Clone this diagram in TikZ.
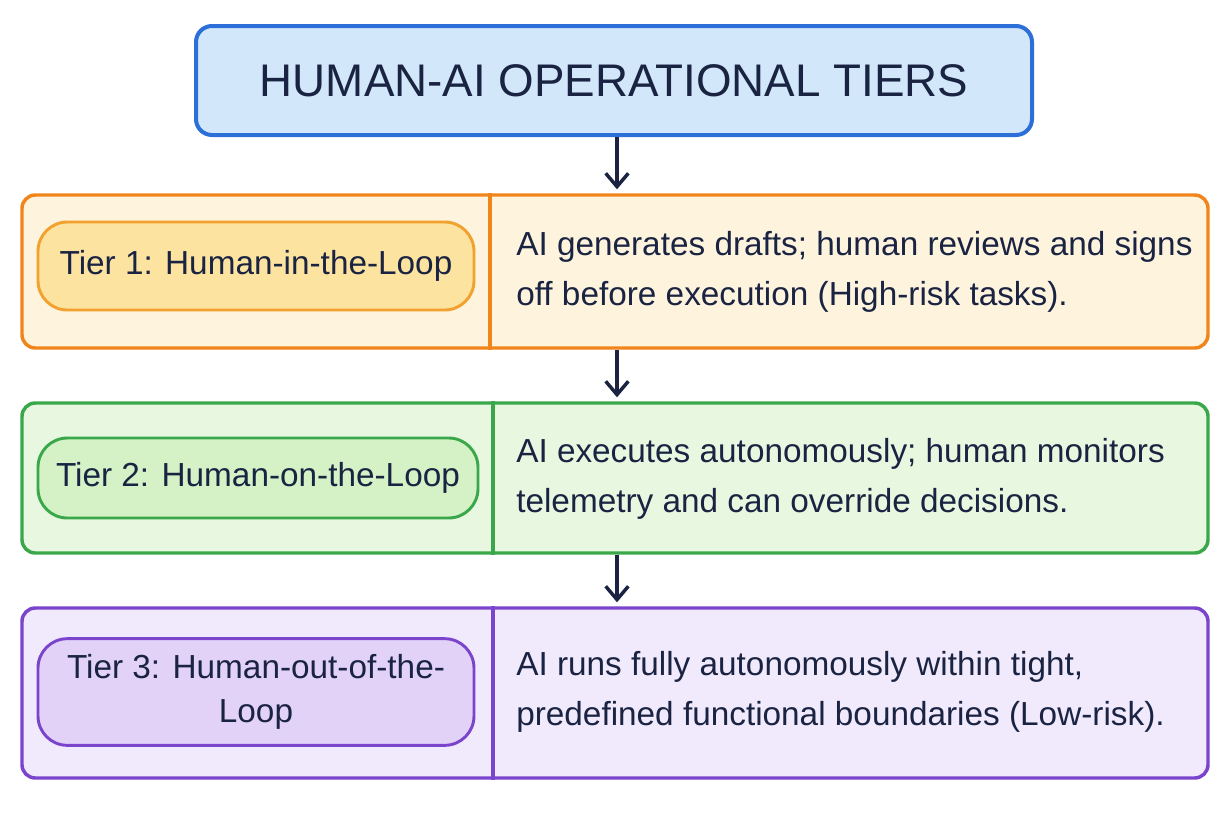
\documentclass[tikz,border=0pt]{standalone}
\usepackage{fontspec}
\setmainfont{Liberation Sans}
\usetikzlibrary{arrows.meta,calc}
\definecolor{ink}{HTML}{1A2442}
\definecolor{titlefill}{HTML}{D2E8FA}
\definecolor{titleline}{HTML}{2C6FD8}
\definecolor{orline}{HTML}{F0851C}
\definecolor{orfill}{HTML}{FEF4DE}
\definecolor{orpill}{HTML}{FDE3A0}
\definecolor{orpline}{HTML}{F2A12E}
\definecolor{grline}{HTML}{3AA84A}
\definecolor{grfill}{HTML}{E8F8E0}
\definecolor{grpill}{HTML}{D4F2C6}
\definecolor{puline}{HTML}{7A45CC}
\definecolor{pufill}{HTML}{F1E9FC}
\definecolor{pupill}{HTML}{E3D2F8}
\tikzset{
  x=0.75pt, y=-0.75pt,
  txt/.style={text=ink, font=\fontsize{25}{37.5}\selectfont},
  tierbox/.style={draw, line width=2.6pt, rounded corners=10pt, minimum width=889.5pt, inner sep=0pt},
  pillbox/.style={draw, line width=2.2pt, rounded corners=22pt, inner sep=0pt, txt, align=center},
  desc/.style={anchor=west, inner sep=0pt, align=left, txt},
  flow/.style={draw=ink, line width=2.6pt, -{Straight Barb[length=10pt,width=17pt,line width=2.6pt]}, shorten >=3pt},
  divider/.style={line width=2.4pt}
}
\begin{document}
\begin{tikzpicture}
\fill[white] (0,0) rectangle (1229,819);
\useasboundingbox (0,0) rectangle (1229,819);

% title
\node[draw=titleline, fill=titlefill, line width=3pt, rounded corners=12pt,
      minimum width=627pt, minimum height=81.75pt, text=ink,
      font=\fontsize{34.3}{40}\selectfont] (title) at (614,80.5) {HUMAN-AI OPERATIONAL TIERS};

% tier boxes
\node[tierbox, draw=orline, fill=orfill, minimum height=114.75pt] (t1) at (615,271.5) {};
\node[tierbox, draw=grline, fill=grfill, minimum height=112.5pt] (t2) at (615,478) {};
\node[tierbox, draw=puline, fill=pufill, minimum height=127.5pt] (t3) at (615,693) {};

% dividers
\coordinate (d1) at (490,0);
\coordinate (d2) at (493,0);
\coordinate (d3) at (493,0);
\draw[divider, orline] (t1.north -| d1) -- (t1.south -| d1);
\draw[divider, grline] (t2.north -| d2) -- (t2.south -| d2);
\draw[divider, puline] (t3.north -| d3) -- (t3.south -| d3);

% pills
\node[pillbox, draw=orpline, fill=orpill, minimum width=327pt, minimum height=66pt] (p1) at (256,266) {Tier 1: Human-in-the-Loop};
\node[pillbox, draw=grline, fill=grpill, minimum width=330pt, minimum height=60pt] (p2) at (258,478) {Tier 2: Human-on-the-Loop};
\node[pillbox, draw=puline, fill=pupill, minimum width=327pt, minimum height=80pt,
      font=\fontsize{25}{33}\selectfont] (p3) at (256,692) {Tier 3: Human-out-of-the-\\Loop};

% descriptions
\node[desc] (x1) at (516,272) {AI generates drafts; human reviews and signs\\off before execution (High-risk tasks).};
\node[desc] (x2) at (516,479) {AI executes autonomously; human monitors\\telemetry and can override decisions.};
\node[desc] (x3) at (516,692) {AI runs fully autonomously within tight,\\predefined functional boundaries (Low-risk).};

% arrows
\coordinate (ax) at (617,0);
\draw[flow] (title.south -| ax) -- (t1.north -| ax);
\draw[flow] (t1.south -| ax) -- (t2.north -| ax);
\draw[flow] (t2.south -| ax) -- (t3.north -| ax);
\end{tikzpicture}
\end{document}
